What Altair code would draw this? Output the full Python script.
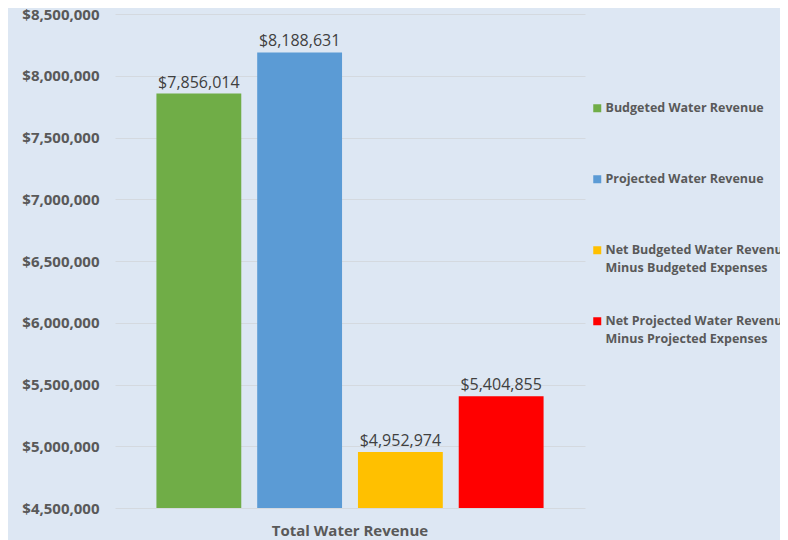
import altair as alt
import pandas as pd

category = ["Total Water Revenue"] * 4
series = [
    "Budgeted Water Revenue",
    "Projected Water Revenue",
    "Net Budgeted Water Revenue\nMinus Budgeted Expenses",
    "Net Projected Water Revenue\nMinus Projected Expenses",
]
values = [7856014, 8188631, 4952974, 5404855]
colors = ["#70AD47", "#5B9BD5", "#FFC000", "#FF0000"]
y_ticks = [4500000, 5000000, 5500000, 6000000, 6500000, 7000000, 7500000, 8000000, 8500000]

df = pd.DataFrame({"category": category, "series": series, "value": values})

x = alt.X("category:N", title=None,
          scale=alt.Scale(paddingInner=0, paddingOuter=0.107),
          axis=alt.Axis(labelAngle=0, labelFontSize=15, labelFontWeight="bold",
                        labelColor="#595959", labelFont="Open Sans", ticks=False,
                        domain=False, labelPadding=15))
xo = alt.XOffset("series:N", sort=series,
                 scale=alt.Scale(paddingInner=0.158, paddingOuter=0))
y = alt.Y("value:Q", title=None,
          scale=alt.Scale(domain=[4500000, 8500000], nice=False, zero=False),
          axis=alt.Axis(values=y_ticks, format="$,.0f", labelFontSize=15,
                        labelFontWeight="bold", labelColor="#595959", labelFont="Open Sans",
                        ticks=False, domain=False, labelPadding=16,
                        gridColor="#D4D9DF", gridWidth=1))

label_expr = ("indexof(datum.label, '\\n') >= 0 ? split(datum.label, '\\n') : "
              "[datum.label, ' ']")

bars = alt.Chart(df).mark_bar().encode(
    x=x, xOffset=xo, y=y, y2=alt.datum(4500000),
    color=alt.Color("series:N", sort=series,
                    scale=alt.Scale(domain=series, range=colors),
                    legend=alt.Legend(title=None, orient="none", legendX=476, legendY=82,
                                      symbolType="M-1,0.5H1V2.5H-1Z", symbolSize=64,
                                      symbolStrokeWidth=0,
                                      labelFont="Open Sans", labelFontSize=12.5,
                                      labelFontWeight="bold", labelColor="#595959",
                                      labelLimit=600, labelBaseline="top",
                                      labelExpr=label_expr,
                                      rowPadding=34, labelOffset=2)),
)

labels = alt.Chart(df).mark_text(baseline="bottom", dy=-3, fontSize=16,
                                 font="Open Sans", color="#404040").encode(
    x=x, xOffset=xo, y="value:Q",
    text=alt.Text("value:Q", format="$,.0f"),
)

chart = alt.layer(bars, labels).properties(
    width=470, height=494,
    background="#DDE7F3",
    autosize=alt.AutoSizeParams(type="none"),
    padding={"left": 107, "top": 6, "right": 195, "bottom": 32},
).configure(style={"guide-label": {"lineHeight": 18}}).configure_view(stroke=None)

chart.save("out.html", embed_options={"renderer": "svg", "actions": False})
